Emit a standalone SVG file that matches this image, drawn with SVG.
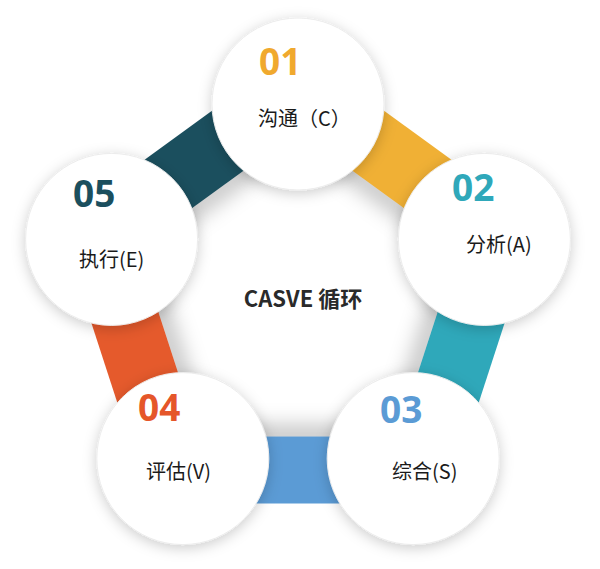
<svg xmlns="http://www.w3.org/2000/svg" width="600" height="569" viewBox="0 0 600 569">
<style>
.num{font-family:"Open Sans","Noto Sans",sans-serif;font-weight:bold;font-size:37px}
.lbl{font-family:"Noto Sans CJK SC","Noto Sans",sans-serif;font-size:20px;fill:#1a1a1a}
.title{font-family:"Noto Sans CJK SC","Noto Sans",sans-serif;font-weight:bold;font-size:22px;fill:#2a2a2a}
.node{fill:#ffffff;stroke:#ececec;stroke-width:1;filter:url(#cshadow)}
</style>
<defs>
<filter id="cshadow" x="-30%" y="-30%" width="160%" height="160%">
<feDropShadow dx="0" dy="3" stdDeviation="7" flood-color="#000" flood-opacity="0.2"/>
</filter>
<filter id="blur" x="-20%" y="-20%" width="140%" height="140%">
<feGaussianBlur stdDeviation="10"/>
</filter>
<clipPath id="innerClip"><polygon points="298,131.2 458.5,247.8 397.2,436.6 198.8,436.6 137.5,247.8"/></clipPath>
</defs>
<rect width="600" height="569" fill="#ffffff"/>
<g id="connectors">
<polygon points="298,48.3 537.4,222.2 458.5,247.8 298,131.2" fill="#f0b035"/>
<polygon points="537.4,222.2 445.9,503.6 397.2,436.6 458.5,247.8" fill="#2fa8ba"/>
<polygon points="445.9,503.6 150.1,503.6 198.8,436.6 397.2,436.6" fill="#5b9bd5"/>
<polygon points="150.1,503.6 58.6,222.2 137.5,247.8 198.8,436.6" fill="#e55a2c"/>
<polygon points="58.6,222.2 298,48.3 298,131.2 137.5,247.8" fill="#1b4f5e"/>
<g clip-path="url(#innerClip)">
<polygon points="298,131.2 458.5,247.8 397.2,436.6 198.8,436.6 137.5,247.8" fill="none" stroke="#000" stroke-opacity="0.22" stroke-width="24" filter="url(#blur)"/>
</g>
</g>
<g id="center">
<text class="title" x="303" y="307" text-anchor="middle">CASVE 循环</text>
</g>
<g id="node01">
<circle class="node" cx="298" cy="104" r="86"/>
<text class="num" x="259" y="75" fill="#f0a92e">01</text>
<text class="lbl" x="258" y="126">沟通（C）</text>
</g>
<g id="node02">
<circle class="node" cx="484.4" cy="239.4" r="86"/>
<text class="num" x="452" y="201" fill="#2fa8ba">02</text>
<text class="lbl" x="466" y="252">分析(A)</text>
</g>
<g id="node03">
<circle class="node" cx="413.2" cy="458.6" r="86"/>
<text class="num" x="380" y="423" fill="#5b9bd5">03</text>
<text class="lbl" x="392" y="479">综合(S)</text>
</g>
<g id="node04">
<circle class="node" cx="182.8" cy="458.6" r="86"/>
<text class="num" x="138" y="421" fill="#e5562a">04</text>
<text class="lbl" x="146" y="479">评估(V)</text>
</g>
<g id="node05">
<circle class="node" cx="111.6" cy="239.4" r="86"/>
<text class="num" x="73" y="207" fill="#1b4f5e">05</text>
<text class="lbl" x="79" y="267">执行(E)</text>
</g>
</svg>
